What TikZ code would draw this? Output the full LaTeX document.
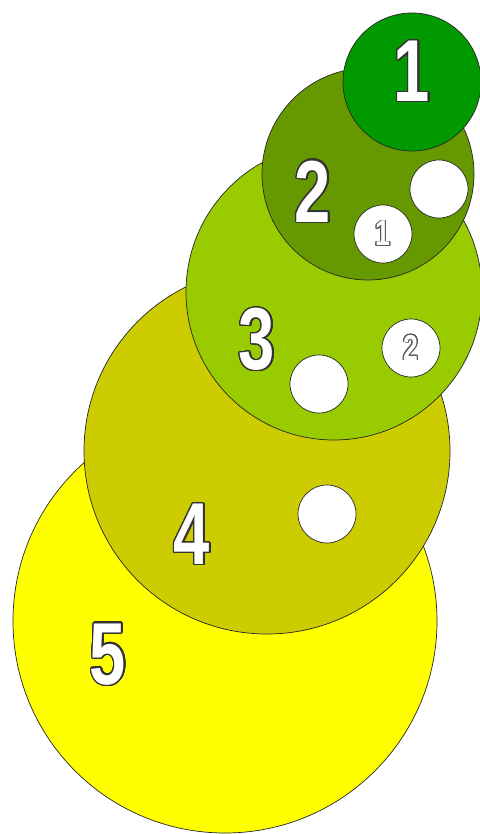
\documentclass[tikz,border=0pt]{standalone}
\usepackage{fontspec}
\newfontfamily\digitfont[FakeStretch=0.74]{Liberation Sans}
\usepackage[copies]{contour}
\contournumber{32}

\definecolor{discone}{RGB}{0,153,0}
\definecolor{disctwo}{RGB}{102,153,0}
\definecolor{discthree}{RGB}{153,204,0}
\definecolor{discfour}{RGB}{204,204,0}
\definecolor{discfive}{RGB}{255,255,0}

\begin{document}
\begin{tikzpicture}[x=1pt, y=-1pt]
  \tikzset{disc/.style={circle, draw=black!85, line width=0.7pt, inner sep=0pt},
    hole/.style={disc, fill=white, minimum size=58pt},
    bignum/.style={text=white, inner sep=0pt, font=\digitfont\bfseries\fontsize{88}{88}\selectfont},
    smallnum/.style={text=white, inner sep=0pt, font=\digitfont\bfseries\fontsize{36}{36}\selectfont}}
  \fill[white] (0,0) rectangle (479,834);
  \useasboundingbox (0,0) rectangle (479,834);
  % bottom disc first, the others stacked above it
  \node[disc, fill=discfive, minimum size=424pt] (c5) at (225,621) {};
  \node[bignum] (n5) at (108,655) {\contourlength{1.3pt}\contour{black!80}{5}};

  \node[disc, fill=discfour, minimum size=366pt] (c4) at (267,451) {};
  \node[bignum] (n4) at (192,535) {\contourlength{1.3pt}\contour{black!80}{4}};
  \node[hole] (h4) at (327,514) {};

  \node[disc, fill=discthree, minimum size=296pt] (c3) at (334,292) {};
  \node[bignum] (n3) at (257,340) {\contourlength{1.3pt}\contour{black!80}{3}};
  \node[hole] (h3a) at (319,384) {};
  \node[hole] (h3b) at (411,348) {};
  \node[smallnum] (m2) at (h3b) {\contourlength{0.8pt}\contour{black!65}{2}};

  \node[disc, fill=disctwo, minimum size=212pt] (c2) at (368,174) {};
  \node[bignum] (n2) at (313,192) {\contourlength{1.3pt}\contour{black!80}{2}};
  \node[hole] (h2a) at (439,189) {};
  \node[hole] (h2b) at (383,234) {};
  \node[smallnum] (m1) at (h2b) {\contourlength{0.8pt}\contour{black!65}{1}};

  \node[disc, fill=discone, minimum size=138pt] (c1) at (412,82) {};
  \node[bignum] (n1) at (412,72) {\contourlength{1.3pt}\contour{black!80}{1}};
\end{tikzpicture}
\end{document}
